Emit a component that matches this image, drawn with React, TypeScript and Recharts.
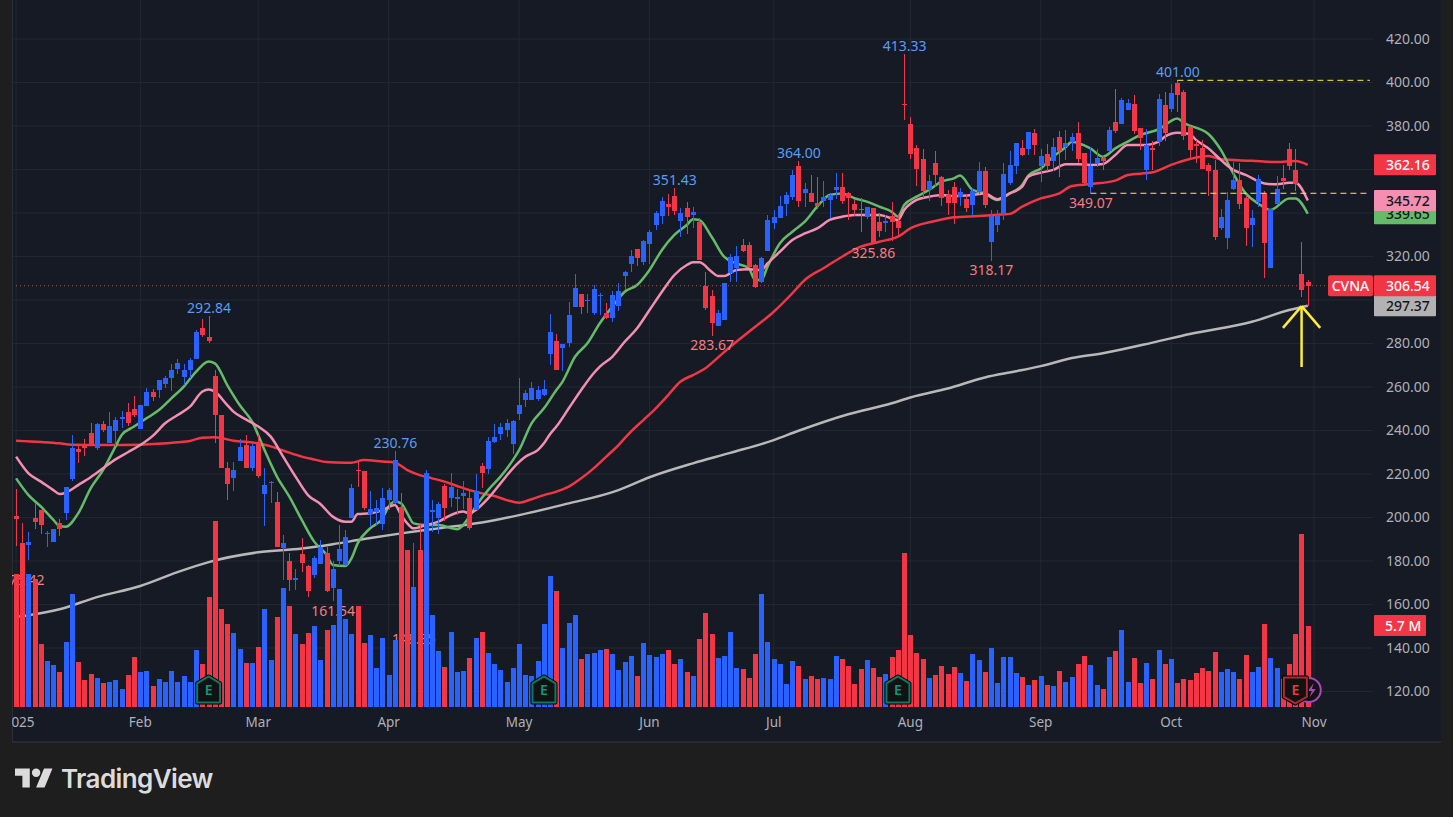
import React from 'react';
import { ComposedChart, Bar, Line, XAxis, YAxis, CartesianGrid, ReferenceLine } from 'recharts';

const opens = [200.7,186.6,187.4,199.8,203.6,192.4,188.7,197.5,202.1,217.7,231.5,233.3,238.9,232,243,234.3,239.8,245.4,248.5,249.9,240.7,251.3,257.7,258.6,261.4,264.1,268.3,264.6,267.8,272.9,287.1,283,265.1,247.1,222.8,218.2,226,233.3,222.8,234.7,210.8,216,207.1,186,180,171.4,183.2,177.7,173.6,178.6,183.7,167.6,180,178.2,
199.6,221.8,221.4,201.6,202.5,197,208,206.5,205,184.3,152.9,184.3,175.9,202.5,199.8,214.5,209,208.5,209.9,209,203.4,223.7,222.3,234.7,238.4,240.2,233.8,247.6,254,254,254.5,256.3,275.2,281.2,277.9,280.2,296.8,302.8,299.5,294,302,294,291.7,297.2,311,316.6,323.5,317.5,325.8,334.5,338.6,344.1,347.8,336.3,342.3,
339.2,335.9,306.4,301.8,288,290.8,312.2,314.7,325.3,325.3,316.1,308.3,322.5,335.4,337.7,344.1,347.4,361.6,349.2,349.2,344.6,345.5,346,350.6,352,349.2,344.1,341.8,338.2,342.3,335.9,335.6,338.6,336.3,390.1,380.9,369.9,364.8,350.6,363,356.6,348.3,352,347.4,346.4,343.7,349.7,359.3,326.7,334.5,339.5,353.8,361.6,369.9,369.4,376.8,361.6,367.1,363.9,374.9,370.3,372.6,376.8,367.6,352,363,365.3,368.5,381.8,380.9,387.3,390.1,379.1,359.8,369.9,372.6,389.6,387.8,399.8,395.6,379.7,371.7,369.9,362.1,359.8,333.1,328.5,351,355.2,346.9,334.5,345,349.2,314.7,344.1,356.1,369.4,359.8,311.9,308.3];
const closes = [199.3,177.4,188.7,197.9,196.6,193,194.7,194.7,214,232.1,230.1,232,233.3,243,240.2,242.1,244.8,246.1,243.5,247.1,251.7,257.7,255.4,263.2,264.1,267.8,271,267.8,272.4,285.3,283.9,281.2,247.1,222.8,215.4,221.8,232.4,222.8,232.9,219.1,214.9,216.3,186.4,188.3,171.3,172,179.1,166.2,181.4,186.4,166.2,176.2,185.5,191,
213.6,221.4,204.4,203.9,204.4,209,212.6,226.4,183.5,162,168,172.8,220.3,203.4,206.2,204.4,214,209.4,211.3,195.2,212.2,220.5,235.2,237,241.6,243.4,244.4,251.7,257.2,259.5,258.6,259.1,285.3,267.8,279.8,293.1,305.5,296.8,300,305,302.3,291.7,302.3,304.1,312.9,320.2,319.3,327.1,331.3,340,345.5,342.8,340.9,340,338.3,
340.5,318.4,296.3,289.4,294,307.8,319.8,320.2,322.5,315.2,306,319.3,336.8,338.2,343.2,348.3,357.5,345.5,351,345.1,343.2,347.4,348.3,352,345.5,347,341.4,341.4,342.8,326.05,331.7,336.3,335.9,333.1,389.7,367.1,360.2,350.1,354.7,357.5,346.9,344.6,344.6,349.7,342.3,350.1,359.3,343.7,338.6,339.1,357.9,362.1,372.2,366.7,377.2,371.3,366.2,361.6,370.3,368.5,372.2,374.9,364.8,353.8,361.6,365.3,363.9,378.2,377.7,391.9,390.6,377.7,374.5,371.3,369,392.4,376.8,395.2,394.2,375.4,369,370.8,360.2,359.3,329,338.2,346,355.2,344.1,333.1,337.7,355.6,326.2,341.8,351,354.7,361.6,353.3,304.6,306.54];
const highs = [213.1,197.3,193.3,206.8,203.6,193.9,194.7,199.3,214,237.9,233.3,236.1,243.5,243.5,244.4,248.5,246.2,249,252.6,255.9,251.7,259.5,259.1,263.2,265.1,270.6,272.9,270.6,273.3,286.2,291.3,292.84,267.8,247.1,225.5,225.5,236.1,237.9,234.3,237.9,222.8,216.8,211.7,192,183.7,176.3,190.6,178.2,182.3,189.7,186.4,180,196.6,194.2,
215.4,225.7,221.4,212.2,208,213.6,213.6,230.76,211.4,185,188.3,197.3,221.8,208,207.1,215.4,220.5,213.1,216.8,212.6,220,225,237,243,243.4,245.3,244.8,264.1,258.6,262.3,260.5,263.2,293.6,284.4,279.8,299.1,312,302.8,302.8,306.9,303.2,298.6,304.1,307.8,313.3,323,323.5,327.6,332.2,340.9,347.4,348.7,351.43,342.3,345.1,
342.8,337.5,312.9,304.6,295.4,307.8,321.1,324.8,327.9,326.7,316.5,319.8,339.1,341.4,347.8,349.7,359.8,364,353.8,357.5,356.6,354.7,349.2,358.4,358.4,349.7,346,346.9,342.8,342.3,340,339.1,345.1,339.5,413.33,384.1,371.3,369.4,357.5,368.5,357,350.6,354.3,351.5,348.7,351.3,363.4,361.1,341.4,341.4,363,368.5,372.2,373.6,377.2,378.6,369.4,371.7,374.5,377.7,378.2,376.8,381.8,367.6,370.3,369.4,366.7,379.5,397,392.9,392.4,394.2,379.1,378.6,373.1,394.7,395.6,399.3,401,396.5,380,373.6,373.6,363,364.4,341.8,349.6,363.4,363,348.3,341.4,357.5,350.1,341.8,357,362.1,372.2,369.4,326.7,309.2];
const lows = [187.1,175.42,180.2,194.7,192.4,186.4,188.7,191.5,198.9,216.8,225.1,228.3,233.3,231,239.3,234.3,232.9,241.2,242.1,246.2,240.7,251.3,253.6,254.9,259.5,258.2,266,260.9,264.1,272.9,283,280.2,234.3,222.8,208,212.2,226,222.8,221.4,218.2,196.1,206.7,186.4,171.3,166.2,166.7,175,163.4,172.2,178.6,165.7,161.54,177.7,177.7,
199.6,214.2,203.4,195.8,196.6,194.2,203.4,206.5,180.5,152.9,148.35,168.2,171.3,193.5,192.4,198.2,205,201.1,203.9,194.2,203.4,213.6,220,234.2,235.6,237,229.2,244.8,250.8,254,253.6,255.9,270.1,267.8,267.4,278.4,296.8,293.6,294,293.1,293.1,291.3,289.9,295,304.6,312.9,315.6,316.1,316.6,332.2,334.9,338.6,339.1,329,330.3,
333.1,318.4,295.4,283.67,288,290.8,308.3,308.3,322.1,314.7,305.4,307.8,322.5,332.6,337.7,338.6,346,342.8,342.8,345.1,341.8,342.8,337.7,346.4,344.1,336.8,338.6,331.3,337.2,325.86,329,331.3,327.1,329.9,383.2,364.8,352.4,346.9,345.5,352,343.2,339.1,334.9,343.2,340.5,338.6,348.7,342.3,318.17,331.3,336.8,352.9,357.9,366.2,366.7,366.7,354.2,359.3,359.3,356.5,364.4,368.5,363,352.4,349.07,361.1,359.8,368.5,376.8,380.9,387.3,376.3,369,355.2,359.8,370.8,373.1,386.6,386.4,373.6,364.4,362.8,360.2,347.8,327.6,332.2,323.4,350.6,341.8,324.8,324.4,342.8,310.1,314.7,344.1,351,359.8,350.1,301.4,297.2];
const volumes = [9.31,11.48,9.31,8.96,4.41,3.22,2.94,2.45,4.55,7.91,3.15,1.89,2.31,2.03,1.68,1.75,1.89,1.26,2.24,3.5,2.45,2.52,1.47,1.96,1.75,2.52,1.75,2.17,1.75,3.99,3.01,7.7,13.02,6.86,5.81,5.18,4.06,3.08,3.08,4.2,6.86,3.29,6.3,8.33,7.07,5.11,4.41,5.18,5.67,3.29,5.39,5.74,8.26,6.16,5.11,7.07,4.48,5.04,2.73,4.83,2.24,4.69,14,10.99,6.86,10.99,11.9,6.44,3.92,2.8,5.25,2.45,2.52,3.43,4.83,5.25,3.78,3.01,2.59,1.75,2.73,4.41,2.24,2.17,3.22,5.81,9.17,8.12,4.13,5.88,6.44,3.36,3.71,3.78,3.99,4.06,3.71,2.59,3.15,3.57,2.17,4.48,3.64,3.5,3.71,3.99,3.01,3.36,2.45,2.17,4.76,6.58,5.11,3.43,3.57,5.25,2.73,2.66,2.03,3.71,7.91,4.55,3.36,3.01,1.61,3.22,2.87,1.96,2.17,1.96,2.03,1.96,3.57,3.36,2.87,1.61,2.66,3.29,2.73,2.1,2.31,3.5,3.99,10.78,5.04,3.78,3.36,2.03,2.24,2.87,2.31,2.8,2.38,1.82,3.71,3.29,2.45,4.13,1.68,3.5,3.5,2.38,2.1,1.54,1.89,2.17,1.54,1.47,2.52,1.75,2.1,3.01,3.57,2.94,1.54,1.26,3.5,3.92,5.39,1.75,3.43,1.68,3.08,1.96,3.99,3.01,3.36,1.68,1.96,1.89,2.38,2.73,2.52,3.85,2.45,2.66,2.45,1.96,3.64,2.45,2.8,5.81,3.43,2.73,1.96,3.01,5.11,12.11,5.7];

const ma10: [number, number][] = [[0,218],[2,210.3],[4,205],[6,198.9],[7,196.1],[8,195.8],[10,201.9],[12,213.4],[14,221.8],[16,232.6],[17,237.9],[19,241.8],[21,245.6],[23,249.4],[25,254.8],[27,260.2],[29,267.1],[31,271.7],[32,270.9],[34,260.9],[36,251.7],[38,244.1],[40,231],[42,218.8],[44,209.6],[46,198.9],[48,188.9],[50,182.8],[51,178.2],[53,177.7],[54,181.2],[55,188.1],[57,195],[59,199.6],[60,205],[61,207.3],[62,206.5],[63,201.9],[64,197.3],[66,196.5],[68,196.5],[71,194.6],[73,200.4],[74,205],[76,212.6],[78,218.8],[80,226.4],[81,231],[83,243.3],[85,250.2],[87,258.6],[88,262.5],[90,273.9],[92,280.1],[94,289.3],[96,296.9],[98,303.8],[100,306.9],[102,313.8],[104,323],[106,329.9],[108,334.5],[109,337.1],[110,336.8],[112,329.1],[114,319.9],[116,316.8],[118,314.6],[119,309.2],[120,309.2],[121,315.3],[123,326.1],[125,331.4],[127,336],[129,342.9],[131,348.3],[133,349],[135,346.8],[137,345.2],[139,342.9],[141,340.6],[142,338.3],[143,343.7],[145,347.5],[147,350.6],[149,354.4],[151,355.9],[152,357.2],[154,350.6],[156,349],[158,346],[160,349],[162,352.9],[163,357.2],[165,360.5],[167,365.9],[169,370.2],[170,372.8],[173,369.7],[175,365.9],[177,369.7],[179,372.8],[181,375.8],[184,378.5],[187,383.5],[188,381.5],[192,376.3],[194,369],[196,358.2],[198,349],[200,344.4],[202,341.4],[205,346.7],[206,346.7],[208,339.65]];
const ma21: [number, number][] = [[0,228],[2,220.3],[4,216.5],[6,212.6],[7,210.8],[8,211.4],[10,214.9],[12,218.5],[14,222.6],[16,226.7],[18,230],[20,233.3],[22,237.5],[24,243.3],[26,247.1],[28,251],[30,257.9],[31,258.9],[32,257.9],[34,251.7],[35,248.7],[37,245.1],[39,241.8],[41,237.2],[43,228],[45,218.8],[47,210.3],[49,206.2],[51,200.4],[53,198.1],[54,198.1],[55,201.6],[57,201.9],[59,203.4],[61,205.7],[62,201.1],[63,197.3],[64,195],[66,196.5],[68,198.1],[70,201.1],[72,202.7],[73,201.9],[74,203.4],[76,208.8],[78,215.7],[80,222.6],[82,227.9],[84,231],[85,234.1],[86,238.4],[87,241.8],[89,250.2],[91,258.6],[93,266.3],[94,269.4],[96,273.9],[98,280.8],[100,287],[102,295.4],[104,303.8],[106,311.5],[108,316.1],[109,317.3],[110,317.3],[112,313],[113,311],[114,311],[116,313.8],[118,314.1],[120,313.8],[121,316.8],[123,322.2],[125,327.6],[127,330.6],[129,332.9],[131,336.8],[133,338.3],[135,339.1],[139,339.1],[142,336.8],[143,341.4],[145,346],[147,347.5],[149,348.3],[151,347.8],[154,348.3],[156,349],[158,346.3],[160,349],[162,352.1],[163,356.7],[165,358.5],[167,359.8],[169,362.4],[171,362.4],[173,362.1],[175,362.5],[177,366.7],[179,371.3],[182,371.3],[184,372.8],[185,375.1],[187,376.9],[189,376.3],[190,373.6],[192,369.7],[194,364.4],[196,359.8],[198,357.5],[201,353.6],[203,353.2],[205,353.9],[206,353.9],[208,345.72]];
const ma50: [number, number][] = [[0,235.3],[4,234.7],[7,234.1],[9,233.5],[14,233.3],[20,233.5],[26,234.6],[28,235.2],[30,236.7],[32,236.9],[35,235.3],[39,234.1],[42,231.8],[44,229.8],[46,228],[48,226.7],[50,225.5],[53,225.2],[54,225.2],[56,226.4],[59,225.7],[61,225.2],[63,221.8],[65,219.5],[67,218],[69,216.5],[71,214.5],[73,212.6],[75,211.1],[77,209.9],[79,208],[81,206.8],[83,208.4],[85,210.3],[87,211.9],[89,214.2],[91,218],[93,222.6],[95,227.9],[97,233.3],[99,239.5],[101,244.8],[103,250.2],[105,256.3],[107,262.5],[109,265.5],[111,268.6],[113,273.5],[115,278.5],[118,285.4],[122,294.6],[125,303.1],[127,309.2],[130,314.6],[133,319.9],[136,324.5],[139,326.8],[142,329.1],[144,332.9],[148,336.3],[151,338],[155,338.6],[159,339.4],[160,339.6],[162,342.9],[165,346.7],[168,349],[170,352.4],[173,353.3],[177,354.9],[179,357.5],[183,358.7],[186,362.1],[189,364.8],[192,366.2],[194,364.7],[199,364],[203,363.4],[206,363.9],[208,362.16]];
const ma200: [number, number][] = [[0,154.3],[3,155.5],[7,157.8],[13,163.4],[20,168.5],[26,174.9],[31,179.5],[39,184],[46,185.7],[51,187.7],[56,190.1],[62,192.7],[68,195],[75,197.7],[81,201.1],[88,205.8],[97,212.6],[102,218.5],[109,224.9],[115,229.7],[122,235.6],[126,239.9],[134,247.5],[141,252.5],[144,255.2],[150,259.3],[156,264.4],[161,267.2],[165,269.6],[170,273.3],[175,275.5],[183,280.4],[189,284.4],[199,290],[205,295.4],[208,297.37]];

const monthTicks = [0,20,39,60,81,102,122,144,165,186,209];
const monthNames = ['2025','Feb','Mar','Apr','May','Jun','Jul','Aug','Sep','Oct','Nov'];
const priceTicks = [120,140,160,180,200,220,240,260,280,300,320,340,360,380,400,420];
const hiddenPriceLabels = [300,340,360];

const annotations = [
  { i: 1, price: 175.42, text: '175.42', high: false },
  { i: 31, price: 292.84, text: '292.84', high: true },
  { i: 51, price: 161.54, text: '161.54', high: false },
  { i: 61, price: 230.76, text: '230.76', high: true },
  { i: 64, price: 148.35, text: '148.35', high: false },
  { i: 106, price: 351.43, text: '351.43', high: true },
  { i: 112, price: 283.67, text: '283.67', high: false },
  { i: 126, price: 364.0, text: '364.00', high: true },
  { i: 138, price: 325.86, text: '325.86', high: false },
  { i: 143, price: 413.33, text: '413.33', high: true },
  { i: 157, price: 318.17, text: '318.17', high: false },
  { i: 173, price: 349.07, text: '349.07', high: false },
  { i: 187, price: 401.0, text: '401.00', high: true },
];
const earnings = [{ i: 31, kind: 'past' }, { i: 85, kind: 'past' }, { i: 142, kind: 'past' }, { i: 206, kind: 'next' }];
const dividends = [208];
const markerPrice = 120.7;
const lastClose = 306.54;
const lastVolume = 5.7;
const badges = [
  { value: 339.65, fill: '#66bb6a', color: '#131722' },
  { value: 345.72, fill: '#f48fb1', color: '#131722' },
  { value: 362.16, fill: '#f23645', color: '#ffffff' },
  { value: 297.37, fill: '#b2b2b2', color: '#131722' },
  { value: 306.54, fill: '#f23645', color: '#ffffff' },
];

const UP = '#2962ff';
const DOWN = '#f23645';
const YELLOW = '#ffeb3b';
const FONT = '"Noto Sans", "Open Sans", sans-serif';
const LAST = opens.length - 1;

const rows = Array.from({ length: 219 }, (_, i) => {
  const a = annotations.find((n) => n.i === i);
  const e = earnings.find((n) => n.i === i);
  const pick = (s: [number, number][]) => { const f = s.find((p) => p[0] === i); return f ? f[1] : null; };
  return {
    i,
    o: i <= LAST ? opens[i] : null,
    c: i <= LAST ? closes[i] : null,
    h: i <= LAST ? highs[i] : null,
    l: i <= LAST ? lows[i] : null,
    v: i <= LAST ? volumes[i] : null,
    ma10: pick(ma10), ma21: pick(ma21), ma50: pick(ma50), ma200: pick(ma200),
    annot: a ? a.price : null, annotText: a ? a.text : null, annotHigh: a ? a.high : false,
    mark: e ? markerPrice : null, markKind: e ? e.kind : null,
    bolt: dividends.includes(i) ? markerPrice : null,
  };
});

function Candle(props: any) {
  const { x, y, width, height, payload } = props;
  if (!payload || payload.h == null) return null;
  const k = height / Math.max(payload.h - payload.l, 0.01);
  const left = Math.round(x);
  const fill = payload.c >= payload.o ? UP : DOWN;
  const top = Math.round(y + (payload.h - Math.max(payload.o, payload.c)) * k);
  const bot = Math.round(y + (payload.h - Math.min(payload.o, payload.c)) * k);
  return (
    <g shapeRendering="crispEdges">
      <rect x={left + 2} y={Math.round(y)} width={1} height={Math.max(1, Math.round(height))} fill={fill} />
      <rect x={left} y={top} width={5} height={Math.max(1, bot - top)} fill={fill} />
    </g>
  );
}

function VolumeBar(props: any) {
  const { x, y, height, payload } = props;
  if (!payload || payload.v == null) return null;
  const fill = payload.c >= payload.o ? UP : DOWN;
  return <rect x={Math.round(x)} y={Math.round(y)} width={5} height={Math.round(height)} fill={fill} shapeRendering="crispEdges" />;
}

function AnnotBar(props: any) {
  const { x, y, width, payload } = props;
  if (!payload || payload.annotText == null) return null;
  const hi = payload.annotHigh;
  return (
    <text x={x + width / 2} y={y + (hi ? -3 : 14.5)} textAnchor="middle" fontFamily={FONT} fontSize={14} fill={hi ? '#5b9cf6' : '#f77c80'}>
      {payload.annotText}
    </text>
  );
}

function BoltDot(props: any) {
  const { cx, cy, payload, index } = props;
  if (!payload || payload.bolt == null || cy == null) return <g key={index} />;
  return (
    <g key={index} transform={`translate(${cx + 1},${cy})`}>
      <circle r={12} fill="#131313" stroke="#ab47bc" strokeWidth={2} />
      <path d="M5 -7 L-1 1 L3 1 L1 7 L7 -1 L3 -1 Z" fill="#ab47bc" />
    </g>
  );
}

function MarkDot(props: any) {
  const { cx, cy, payload, index } = props;
  if (!payload || payload.markKind == null || cy == null) return <g key={index} />;
  const past = payload.markKind === 'past';
  const pts = past ? '0,-13.5 11.5,-6.5 11.5,12.5 -11.5,12.5 -11.5,-6.5' : '-11.5,-12.5 11.5,-12.5 11.5,7 0,13.5 -11.5,7';
  const col = past ? '#0b7a64' : '#b22833';
  return (
    <g key={index} transform={`translate(${cx},${cy})`}>
      <polygon points={pts} fill="#000" stroke="#000" strokeWidth={4} strokeLinejoin="round" />
      <polygon points={pts} fill="#121212" stroke={col} strokeWidth={2} strokeLinejoin="round" />
      <text y={5} textAnchor="middle" fontFamily={FONT} fontSize={14} fontWeight={600} fill={past ? '#089981' : '#f23645'}>E</text>
    </g>
  );
}

function PriceTick(props: any) {
  const { x, y, payload } = props;
  if (hiddenPriceLabels.includes(payload.value)) return <g />;
  return (
    <text x={x + 13} y={y + 5} textAnchor="start" fontFamily={FONT} fontSize={14} fill="#aeb1b9">
      {payload.value.toFixed(2)}
    </text>
  );
}

function MonthTick(props: any) {
  const { x, y, payload } = props;
  const n = monthTicks.indexOf(Number(payload.value));
  return (
    <text x={x + (n === 0 ? 3 : 0)} y={y + 12} textAnchor="middle" fontFamily={FONT} fontSize={13.5} fill="#aeb1b9">
      {monthNames[n]}
    </text>
  );
}

const badgeLabel = (b: { value: number; fill: string; color: string }) => (p: any) => {
  const vb = p.viewBox;
  const right = vb.x + vb.width;
  const cy = vb.y;
  return (
    <g>
      {b.value === lastClose && (
        <g>
          <rect x={right - 45} y={cy - 10.5} width={45} height={21} rx={2} fill="#f23645" />
          <text x={right - 22.5} y={cy + 5} textAnchor="middle" fontFamily={FONT} fontSize={14} fontWeight={500} fill="#fff">CVNA</text>
        </g>
      )}
      <rect x={right + 1} y={cy - 10.5} width={62} height={21} rx={1} fill={b.fill} />
      <text x={right + 13} y={cy + 5} fontFamily={FONT} fontSize={14} fontWeight={500} fill={b.color}>{b.value.toFixed(2)}</text>
    </g>
  );
};

const volumeLabel = (p: any) => {
  const vb = p.viewBox;
  const right = vb.x + vb.width;
  return (
    <g>
      <rect x={right + 1} y={vb.y - 10.5} width={52} height={21} rx={1} fill="#f23645" />
      <text x={right + 12} y={vb.y + 5} fontFamily={FONT} fontSize={14} fontWeight={500} fill="#fff">{lastVolume} M</text>
    </g>
  );
};

const axes = { xAxisId: 'p', yAxisId: 'p' } as const;

export default function App() {
  return (
    <div style={{ position: 'absolute', left: 0, top: 0, width: 1453, height: 817, overflow: 'hidden', background: '#1e1e1e' }}>
      <div style={{ position: 'absolute', left: 12, top: 0, width: 1428, height: 741, background: '#161a25', borderLeft: '1px solid #2a2e39', borderBottom: '2px solid #2a2a2e' }} />
      <div style={{ position: 'absolute', left: 0, top: 0 }}>
        <ComposedChart width={1453} height={817} data={rows} margin={{ top: 0, right: 0, bottom: 80, left: 13 }}>
          <CartesianGrid {...axes} stroke="#232733" strokeWidth={1} syncWithTicks />
          <XAxis xAxisId="a" dataKey="i" type="category" scale="band" hide height={0} />
          <XAxis xAxisId="v" dataKey="i" type="category" scale="band" hide height={0} />
          <XAxis xAxisId="p" dataKey="i" type="category" scale="band" ticks={monthTicks} interval={0} height={30} axisLine={false} tickLine={false} tick={<MonthTick />} />
          <YAxis yAxisId="p" orientation="right" type="number" domain={[112.87, 437.93]} ticks={priceTicks} interval={0} width={80} axisLine={false} tickLine={false} tickSize={0} tickMargin={0} tick={<PriceTick />} allowDataOverflow />
          <YAxis yAxisId="v" orientation="right" type="number" domain={[0, 49.49]} hide allowDataOverflow />

          <Line {...axes} zIndex={310} dataKey="ma200" stroke="#b8b8b8" strokeWidth={2.5} dot={false} connectNulls type="monotone" isAnimationActive={false} />
          <Line {...axes} zIndex={311} dataKey="ma50" stroke="#f23645" strokeWidth={2.5} dot={false} connectNulls type="monotone" isAnimationActive={false} />
          <Line {...axes} zIndex={312} dataKey="ma10" stroke="#66bb6a" strokeWidth={2.5} dot={false} connectNulls type="monotone" isAnimationActive={false} />
          <Line {...axes} zIndex={313} dataKey="ma21" stroke="#f48fb1" strokeWidth={2.5} dot={false} connectNulls type="monotone" isAnimationActive={false} />
          <Bar xAxisId="a" yAxisId="p" zIndex={315} dataKey="annot" barSize={5} shape={AnnotBar} isAnimationActive={false} />
          <Bar {...axes} zIndex={320} dataKey={(d: any) => (d.h == null ? null : [d.l, d.h])} barSize={5} shape={Candle} isAnimationActive={false} />
          <Bar xAxisId="v" yAxisId="v" zIndex={330} dataKey="v" barSize={5} shape={VolumeBar} isAnimationActive={false} />
          <Line {...axes} zIndex={340} dataKey="bolt" stroke="none" dot={BoltDot} activeDot={false} isAnimationActive={false} />
          <Line {...axes} zIndex={341} dataKey="mark" stroke="none" dot={MarkDot} activeDot={false} isAnimationActive={false} />

          <ReferenceLine {...axes} zIndex={350} y={lastClose} stroke="#f23645" strokeDasharray="1 3" />
          <ReferenceLine {...axes} zIndex={350} segment={[{ x: 187, y: 401 }, { x: 218, y: 401 }]} stroke={YELLOW} strokeDasharray="6 4" />
          <ReferenceLine {...axes} zIndex={350} segment={[{ x: 173, y: 349.07 }, { x: 218, y: 349.07 }]} stroke={YELLOW} strokeDasharray="6 4" />
          <ReferenceLine {...axes} zIndex={350} segment={[{ x: 207, y: 269.2 }, { x: 207, y: 297.2 }]} stroke={YELLOW} strokeWidth={2.5} />
          <ReferenceLine {...axes} zIndex={350} segment={[{ x: 204, y: 287.2 }, { x: 207, y: 297.2 }]} stroke={YELLOW} strokeWidth={2.5} />
          <ReferenceLine {...axes} zIndex={350} segment={[{ x: 210, y: 287.2 }, { x: 207, y: 297.2 }]} stroke={YELLOW} strokeWidth={2.5} />
          {badges.map((b) => (
            <ReferenceLine key={b.value} {...axes} zIndex={360} y={b.value} stroke="none" label={badgeLabel(b)} />
          ))}
          <ReferenceLine xAxisId="v" yAxisId="v" zIndex={360} y={lastVolume} stroke="none" label={volumeLabel} />
        </ComposedChart>
      </div>
      <div style={{ position: 'absolute', left: 0, top: 0, width: 12, height: 817, background: '#1e1e1e' }} />
      <svg style={{ position: 'absolute', left: 15, top: 764 }} width={38} height={30} viewBox="0 0 36 28">
        <path d="M14 22H7V11H0V4h14v18zM28 22h-8l7.5-18h8L28 22z" fill="#dcdcdc" />
        <circle cx={20} cy={8} r={4} fill="#dcdcdc" />
      </svg>
      <div style={{ position: 'absolute', left: 61, top: 762, fontFamily: 'Inter, sans-serif', fontSize: 26, fontWeight: 600, letterSpacing: -0.6, color: '#dcdcdc', lineHeight: '34px' }}>TradingView</div>
    </div>
  );
}
